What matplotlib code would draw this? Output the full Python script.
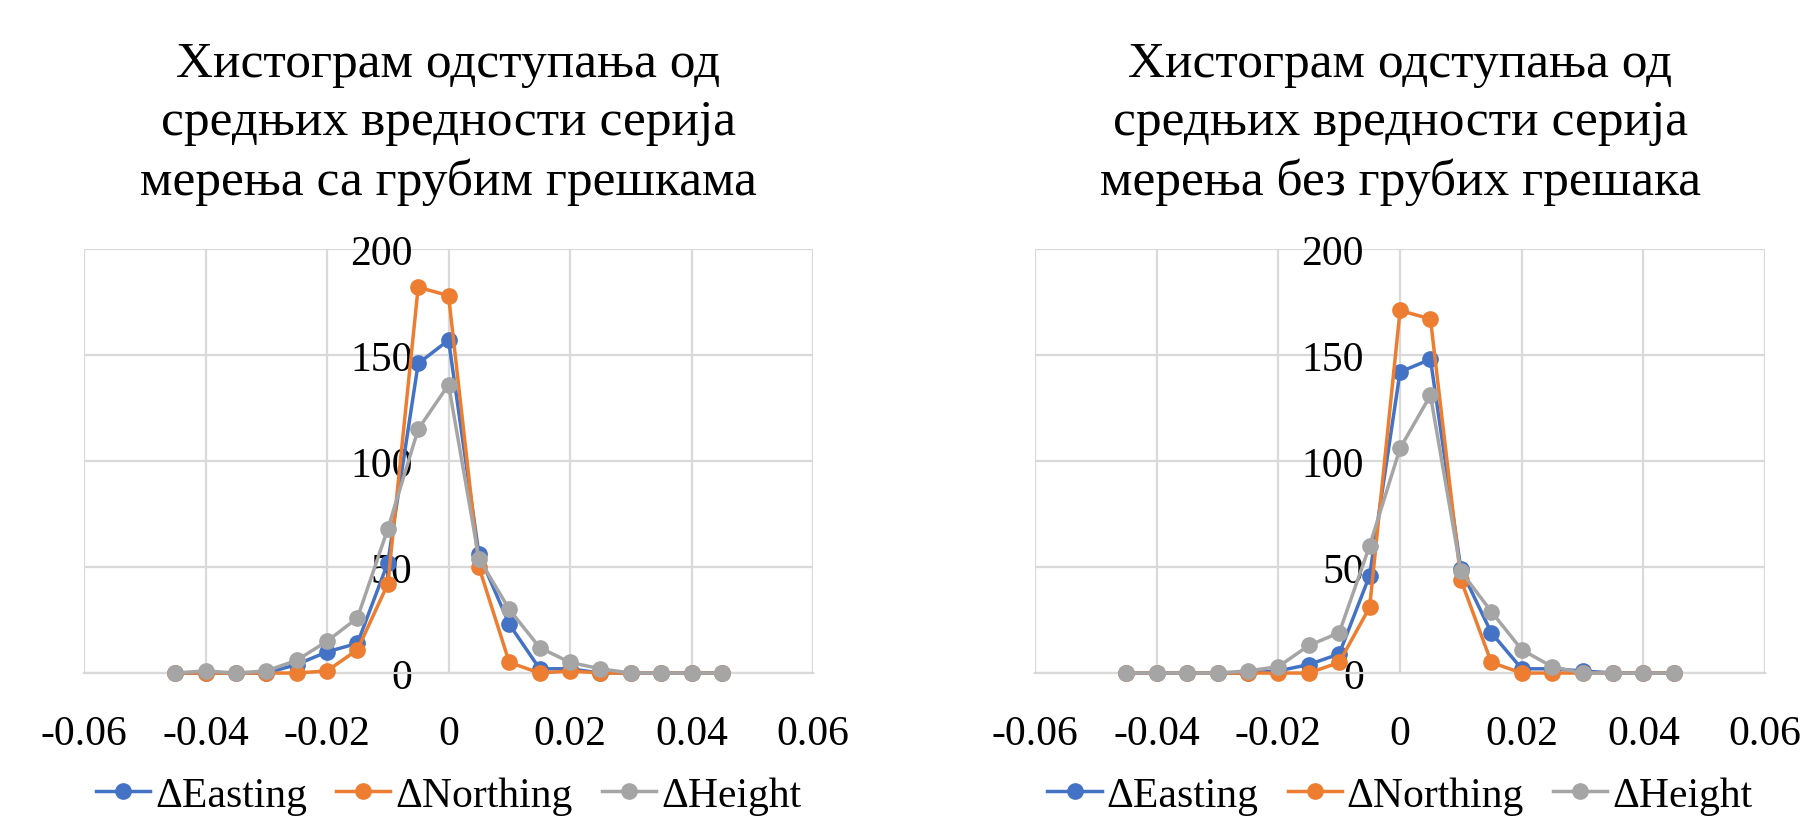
import matplotlib
matplotlib.use("Agg")
import matplotlib.pyplot as plt
from matplotlib.ticker import FixedLocator, FuncFormatter

plt.rcParams['font.family'] = ['Liberation Serif', 'DejaVu Serif']

x_vals = [-0.045, -0.04, -0.035, -0.03, -0.025, -0.02, -0.015, -0.01, -0.005,
          0.0, 0.005, 0.01, 0.015, 0.02, 0.025, 0.03, 0.035, 0.04, 0.045]

# Chart 1: with gross errors
east_1 = [0, 0, 0, 0, 4, 10, 14, 52, 146, 157, 56, 23, 2, 2, 0, 0, 0, 0, 0]
north_1 = [0, 0, 0, 0, 0, 1, 11, 42, 182, 178, 50, 5, 0, 1, 0, 0, 0, 0, 0]
height_1 = [0, 1, 0, 1, 6, 15, 26, 68, 115, 136, 54, 30, 12, 5, 2, 0, 0, 0, 0]

# Chart 2: without gross errors
east_2 = [0, 0, 0, 0, 0, 1, 4, 9, 46, 142, 148, 49, 19, 2, 2, 1, 0, 0, 0]
north_2 = [0, 0, 0, 0, 0, 0, 0, 5, 31, 171, 167, 44, 5, 0, 0, 0, 0, 0, 0]
height_2 = [0, 0, 0, 0, 1, 3, 13, 19, 60, 106, 131, 48, 29, 11, 3, 0, 0, 0, 0]

series_names = ['ΔEasting', 'ΔNorthing', 'ΔHeight']
colors = ['#4472C4', '#ED7D31', '#A5A5A5']

titles = ['Хистограм одступања од\nсредњих вредности серија\nмерења са грубим грешкама',
          'Хистограм одступања од\nсредњих вредности серија\nмерења без грубих грешака']

x_ticks = [-0.06, -0.04, -0.02, 0, 0.02, 0.04, 0.06]
y_ticks = [0, 50, 100, 150, 200]

fig = plt.figure(figsize=(18, 8.37), dpi=100)

axes_pos = [[0.0467, 0.1947, 0.405, 0.5066], [0.575, 0.1947, 0.4056, 0.5066]]
data_sets = [(east_1, north_1, height_1), (east_2, north_2, height_2)]


def xfmt(v, pos):
    if abs(v) < 1e-12:
        return '0'
    return f'{v:.2f}'


for i in range(2):
    ax = fig.add_axes(axes_pos[i])
    handles = []
    for s, c, name in zip(data_sets[i], colors, series_names):
        h, = ax.plot(x_vals, s, color=c, lw=2.5, marker='o', markersize=11,
                     label=name, clip_on=False, zorder=3)
        handles.append(h)
    ax.set_xlim(-0.06, 0.06)
    ax.set_ylim(0, 200)
    ax.xaxis.set_major_locator(FixedLocator(x_ticks))
    ax.yaxis.set_major_locator(FixedLocator(y_ticks))
    ax.xaxis.set_major_formatter(FuncFormatter(xfmt))
    ax.grid(True, color='#d9d9d9', lw=1.6, zorder=0)
    ax.set_axisbelow(True)
    for sp in ['top', 'right']:
        ax.spines[sp].set_visible(False)
    ax.spines['left'].set_position(('data', 0))
    ax.spines['left'].set_visible(False)
    ax.spines['bottom'].set_color('#d9d9d9')
    ax.spines['bottom'].set_linewidth(1.6)
    ax.tick_params(axis='both', length=0, labelsize=30)
    ax.tick_params(axis='x', pad=30)
    ax.tick_params(axis='y', pad=26)
    cx = axes_pos[i][0] + axes_pos[i][2] / 2
    fig.text(cx, 0.767, titles[i], ha='center', va='baseline', fontsize=37,
             linespacing=1.33)
    fig.legend(handles=handles, loc='center', bbox_to_anchor=(cx, 0.048),
               ncol=3, frameon=False, fontsize=30, handlelength=1.3,
               handletextpad=0.12, columnspacing=0.7, borderaxespad=0)

fig.savefig('out.png', dpi=100)
